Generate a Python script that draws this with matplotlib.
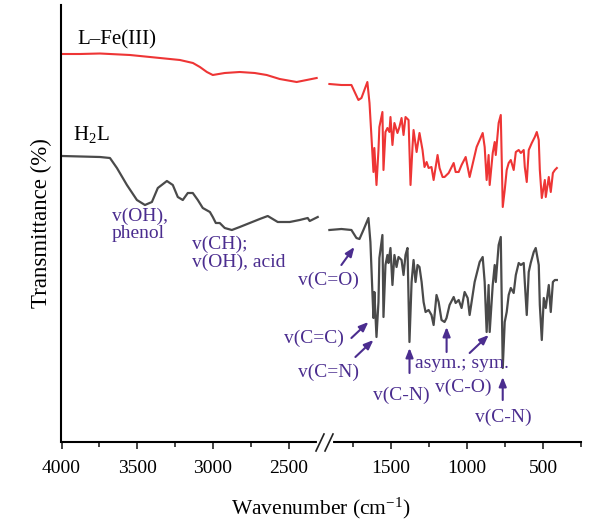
import matplotlib
matplotlib.use("Agg")
import matplotlib.pyplot as plt
from matplotlib.lines import Line2D
from matplotlib.ticker import FixedLocator

plt.rcParams['font.family'] = ['Liberation Serif', 'DejaVu Serif']
plt.rcParams['mathtext.fontset'] = 'custom'
plt.rcParams['mathtext.rm'] = 'Liberation Serif'
plt.rcParams['mathtext.it'] = 'Liberation Serif:italic'

# ---------------- data (wavenumber cm-1, transmittance arbitrary units) -------------
h2l_wn_hi = [3997, 3746, 3680, 3634, 3568, 3502, 3449, 3403, 3364, 3304, 3265, 3232, 3199,
             3166, 3133, 3100, 3067, 3020, 3001, 2981, 2955, 2922, 2875, 2823, 2757, 2691,
             2638, 2572, 2493, 2427, 2374, 2361, 2308]
h2l_t_hi = [286, 285, 284, 274, 257, 242, 237, 240, 254, 261, 257, 245, 242,
            249, 249, 242, 234, 230, 225, 219, 219, 214, 212, 215, 219, 223,
            226, 220, 220, 222, 224, 221, 225]

h2l_wn_lo = [1906, 1827, 1761, 1728, 1708, 1682, 1649, 1636, 1623, 1616, 1610, 1596, 1583,
             1577, 1557, 1550, 1537, 1524, 1517, 1504, 1491, 1478, 1464, 1451, 1431, 1418,
             1405, 1392, 1379, 1365, 1352, 1339, 1326, 1313, 1299, 1286, 1273, 1253, 1234,
             1220, 1201, 1187, 1168, 1148, 1135, 1115, 1088, 1075, 1055, 1036, 1016, 996,
             983, 950, 917, 897, 884, 871, 858, 851, 831, 818, 811, 792, 778, 765, 752,
             739, 726, 712, 693, 679, 660, 646, 627, 620, 607, 594, 581, 561, 548, 528,
             521, 508, 495, 482, 462, 449, 435, 422, 409]
h2l_t_lo = [212, 213, 212, 204, 203, 212, 224, 200, 150, 124, 150, 105, 140,
            184, 207, 125, 177, 187, 179, 194, 157, 187, 175, 185, 182, 167,
            187, 194, 100, 160, 182, 160, 177, 175, 160, 140, 130, 132, 127,
            117, 147, 140, 122, 120, 124, 137, 145, 139, 142, 134, 150, 144,
            127, 160, 180, 185, 160, 110, 157, 110, 157, 177, 160, 197, 205, 74, 120,
            130, 147, 154, 149, 167, 179, 177, 179, 160, 127, 170, 179, 190, 194, 177,
            137, 102, 144, 134, 157, 130, 160, 162, 162]

fe_wn_hi = [3997, 3878, 3746, 3548, 3350, 3218, 3132, 3086, 3040, 3001, 2922, 2823, 2724,
            2645, 2559, 2447, 2381, 2315]
fe_t_hi = [388, 388, 388.5, 387, 384, 382, 379, 375, 370, 367, 369, 370, 369,
           367, 363, 360, 362, 364]

fe_wn_lo = [1906, 1827, 1761, 1715, 1695, 1656, 1642, 1629, 1616, 1610, 1596, 1583, 1577,
            1557, 1550, 1537, 1524, 1511, 1504, 1491, 1478, 1458, 1445, 1431, 1418, 1405,
            1385, 1372, 1359, 1352, 1332, 1313, 1293, 1280, 1266, 1253, 1234, 1220, 1194,
            1181, 1161, 1148, 1121, 1088, 1075, 1055, 1036, 1009, 983, 937, 897, 884, 871,
            858, 851, 831, 818, 811, 792, 778, 765, 752, 739, 726, 712, 693, 679, 660, 646,
            627, 620, 607, 594, 574, 554, 541, 528, 521, 508, 488, 482, 462, 449, 435, 422,
            409]
fe_t_lo = [358, 357, 357, 342, 344, 360, 339, 305, 270, 294, 257, 292, 315,
           330, 272, 310, 314, 310, 325, 297, 319, 309, 315, 324, 307, 325,
           322, 257, 295, 312, 290, 309, 292, 275, 280, 274, 275, 262, 287,
           274, 265, 265, 269, 279, 270, 270, 277, 285, 265, 295, 309, 295, 262,
           287, 257, 289, 300, 287, 319, 327, 235, 252, 272, 279, 282, 272, 290, 292, 289,
           292, 275, 260, 292, 299, 305, 310, 302, 272, 244, 262, 245, 265, 250, 269, 272,
           274]

series_labels = ["L\u2013Fe(III)", "H$_2$L"]
major_hi = [4000, 3500, 3000, 2500]
minor_hi = [3750, 3250, 2750]
major_lo = [1500, 1000, 500]
minor_lo = [1750, 1250, 750, 250]

RED = '#ee3535'
GRAY = '#4a4a4a'
PURPLE = '#4b2d8f'

# ---------------- figure -------------
fig = plt.figure(figsize=(6.0, 5.24), dpi=100)
W, H = 600.0, 524.0
x0, xb, x1 = 61.5, 326.5, 581.0
ytop, ybot = 5.0, 442.0
ax1 = fig.add_axes([x0 / W, 1 - ybot / H, (xb - x0) / W, (ybot - ytop) / H])
ax2 = fig.add_axes([xb / W, 1 - ybot / H, (x1 - xb) / W, (ybot - ytop) / H])

ax1.set_xlim(4000, 2250)
ax2.set_xlim(1925, 250)
for ax in (ax1, ax2):
    ax.set_ylim(0, 437)
    ax.spines['top'].set_visible(False)
    ax.spines['right'].set_visible(False)
    ax.spines['bottom'].set_linewidth(1.5)
    ax.spines['left'].set_linewidth(1.5)
    ax.set_yticks([])
    ax.tick_params(axis='x', which='major', direction='out', length=5, width=1.2,
                   labelsize=14, pad=8, color='#222222')
    ax.tick_params(axis='x', which='minor', direction='out', length=3.5, width=1.2,
                   color='#222222')
    ax.patch.set_alpha(0)
ax2.spines['left'].set_visible(False)

ax1.xaxis.set_major_locator(FixedLocator(major_hi))
ax1.xaxis.set_minor_locator(FixedLocator(minor_hi))
ax2.xaxis.set_major_locator(FixedLocator(major_lo))
ax2.xaxis.set_minor_locator(FixedLocator(minor_lo))

ax1.plot(fe_wn_hi, fe_t_hi, color=RED, lw=1.5)
ax2.plot(fe_wn_lo, fe_t_lo, color=RED, lw=1.5)
ax1.plot(h2l_wn_hi, h2l_t_hi, color=GRAY, lw=1.6)
ax2.plot(h2l_wn_lo, h2l_t_lo, color=GRAY, lw=1.6)

ax1.set_ylabel("Transmittance (%)", fontsize=16.5, labelpad=7)
fig.text(0.5 * (x0 + x1) / W + 0.0, 1 - 508 / H, "Wavenumber (cm$^{\u2212 1}$)",
         fontsize=15.5, ha='center', va='center')

# series labels
ax1.text(3898, 398, series_labels[0], fontsize=15, ha='left', va='baseline')
ax1.text(3925, 302, series_labels[1], fontsize=15, ha='left', va='baseline')

# annotation texts without arrows (left part)
ax1.text(3667, 234, "v(OH),\nphenol", fontsize=14, color=PURPLE, ha='left', va='top',
         linespacing=1.0)
ax1.text(3139, 206, "v(CH);\nv(OH), acid", fontsize=14, color=PURPLE, ha='left', va='top',
         linespacing=1.0)


def px2wn(px):
    return 1500 - (px - 389.6) * 6.596


def arrow(ax, x_from, y_from, x_to, y_to):
    ax.annotate("", xy=(px2wn(x_to), 442 - y_to), xytext=(px2wn(x_from), 442 - y_from),
                arrowprops=dict(arrowstyle='-|>,head_length=0.55,head_width=0.22',
                                color=PURPLE, lw=1.5, shrinkA=0, shrinkB=0))


def label(ax, px, py, s, ha='left'):
    ax.text(px2wn(px), 442 - py, s, fontsize=14, color=PURPLE, ha=ha, va='center')


label(ax2, 297, 280, "v(C=O)")
arrow(ax2, 340, 265, 353, 247)
label(ax2, 343, 338, "v(C=C)", ha='right')
arrow(ax2, 350, 338, 367, 322)
label(ax2, 297, 372, "v(C=N)")
arrow(ax2, 354, 357, 372, 340)
label(ax2, 372, 395, "v(C-N)")
arrow(ax2, 408, 373, 408, 348)
label(ax2, 413, 363, "asym.; sym.")
arrow(ax2, 445, 352, 445, 327)
arrow(ax2, 468, 353, 487, 335)
label(ax2, 433, 387, "v(C-O)")
label(ax2, 473, 417, "v(C-N)")
arrow(ax2, 501, 400, 501, 377)

# axis break marks
fig.add_artist(Line2D([319 / W, 331 / W], [1 - 442 / H, 1 - 442 / H], color='white',
                      lw=3, transform=fig.transFigure))
for dx in (0, 9):
    fig.add_artist(Line2D([(316 + dx) / W, (324 + dx) / W], [1 - 451 / H, 1 - 434 / H],
                          color='#222222', lw=1.2, transform=fig.transFigure))

fig.savefig("out.png", dpi=100)
